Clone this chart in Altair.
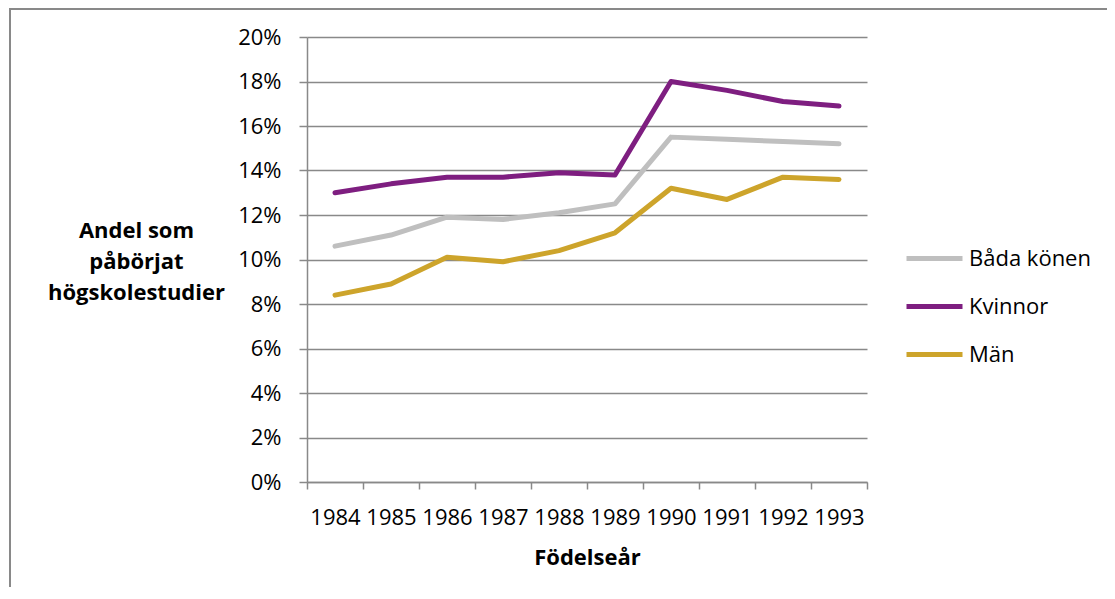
import altair as alt
import pandas as pd

years = ["1984", "1985", "1986", "1987", "1988", "1989", "1990", "1991", "1992", "1993"]
bada_konen = [10.6, 11.1, 11.9, 11.8, 12.1, 12.5, 15.5, 15.4, 15.3, 15.2]
kvinnor = [13.0, 13.4, 13.7, 13.7, 13.9, 13.8, 18.0, 17.6, 17.1, 16.9]
man = [8.4, 8.9, 10.1, 9.9, 10.4, 11.2, 13.2, 12.7, 13.7, 13.6]
series = ["Båda könen", "Kvinnor", "Män"]
colors = ["#BFBFBF", "#7E1E80", "#CDA42B"]
y_ticks = [0, 0.02, 0.04, 0.06, 0.08, 0.10, 0.12, 0.14, 0.16, 0.18, 0.20]

rows = []
for name, vals in zip(series, [bada_konen, kvinnor, man]):
    for yr, v in zip(years, vals):
        rows.append({"year": yr, "series": name, "value": v / 100})
df = pd.DataFrame(rows)

GRAY = "#898989"

border = alt.Chart(alt.Data(values=[{"a": 1}])).mark_rect(
    fillOpacity=0, stroke=GRAY, strokeWidth=2
).encode(
    x=alt.value(-297), x2=alt.value(900), y=alt.value(-28), y2=alt.value(700)
)

lines = alt.Chart(df).mark_line(
    strokeWidth=5, strokeCap="round", strokeJoin="round"
).encode(
    x=alt.X(
        "year:O",
        sort=years,
        bandPosition=0.5,
        scale=alt.Scale(type="band", paddingInner=0, paddingOuter=0),
        axis=alt.Axis(
            title="Födelseår",
            labelAngle=0,
            tickBand="extent",
            grid=False,
            domainColor=GRAY,
            domainWidth=1.5,
            tickColor=GRAY,
            tickWidth=1.5,
            tickSize=7,
            labelFontSize=22,
            labelColor="black",
            labelBaseline="alphabetic",
            labelPadding=35,
            labelFont="Open Sans",
            titleFont="Open Sans",
            titleFontSize=22,
            titleFontWeight="bold",
            titleColor="black",
            titleBaseline="alphabetic",
            titleY=82,
        ),
    ),
    y=alt.Y(
        "value:Q",
        scale=alt.Scale(domain=[0, 0.2], nice=False, zero=True),
        axis=alt.Axis(
            title=["Andel som", "påbörjat", "högskolestudier"],
            values=y_ticks,
            format=".0%",
            grid=True,
            gridColor=GRAY,
            gridWidth=1.5,
            domainColor=GRAY,
            domainWidth=1.5,
            tickColor=GRAY,
            tickWidth=1.5,
            tickSize=8,
            labelFontSize=22,
            labelColor="black",
            labelPadding=18,
            labelFont="Open Sans",
            titleFont="Open Sans",
            titleFontSize=22,
            titleFontWeight="bold",
            titleColor="black",
            titleAngle=0,
            titleAlign="center",
            titleBaseline="alphabetic",
            titleX=-171,
            titleY=200,
            titleLineHeight=31,
        ),
    ),
    color=alt.Color(
        "series:N",
        sort=series,
        scale=alt.Scale(domain=series, range=colors),
        legend=alt.Legend(
            title=None,
            orient="none",
            legendX=611,
            legendY=205,
            symbolType="M-2,0H2",
            symbolSize=784,
            symbolStrokeWidth=5,
            labelFontSize=22,
            labelFont="Open Sans",
            labelColor="black",
            labelOffset=18,
            labelLimit=300,
            rowPadding=20,
            padding=0,
        ),
    ),
)

chart = alt.layer(border, lines).properties(
    width=560,
    height=445,
    padding={"left": 299, "top": 29, "right": 240, "bottom": 105},
    autosize=alt.AutoSizeParams(type="none"),
).configure(font="Open Sans").configure_view(stroke="transparent")

chart.save("out.html", embed_options={"renderer": "svg", "actions": False})
